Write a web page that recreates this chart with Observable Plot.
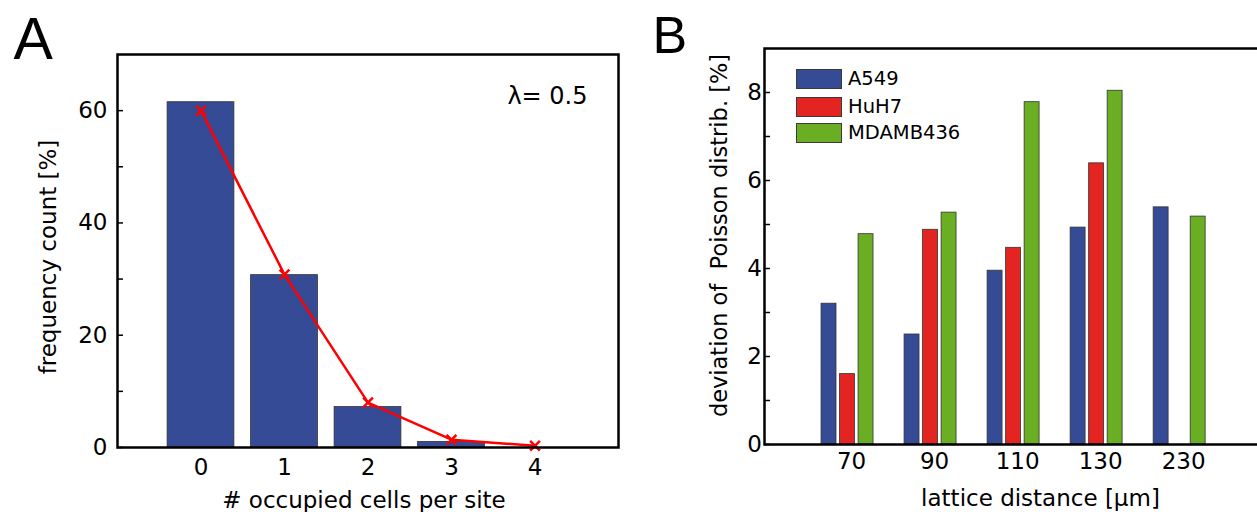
<!DOCTYPE html>
<html>
<head>
<meta charset="utf-8">
<script src="https://cdn.jsdelivr.net/npm/d3@7"></script>
<script src="https://cdn.jsdelivr.net/npm/@observablehq/plot@0.6"></script>
<style>
  html, body { margin: 0; padding: 0; background: #fff; }
  #root { position: relative; width: 1257px; height: 512px; overflow: hidden; font-family: "DejaVu Sans", sans-serif; }
  #root svg { position: absolute; top: 0; }
  .legend { position: absolute; left: 796px; top: 69px; }
  .legend .item { position: absolute; left: 0; height: 20px; white-space: nowrap; }
  .legend .sw { position: absolute; left: 0; top: 0; width: 44px; height: 18px; border: 1px solid #3a3a3a; }
  .legend .lbl { position: absolute; left: 52px; top: -3px; font-size: 19.5px; line-height: 26px; color: #000; }
</style>
</head>
<body>
<div id="root"></div>
<script>
// ---------- Panel A data ----------
const cellsPerSite = [0, 1, 2, 3];
const frequencyPct = [61.5, 30.7, 7.2, 1.0];
const poissonX = [0, 1, 2, 3, 4];
const poissonPct = [60.0, 30.8, 8.0, 1.4, 0.3];
const yTicksA = [0, 20, 40, 60];
const yMinorA = [10, 30, 50];
const lambdaLabel = "λ= 0.5";
const xTitleA = "# occupied cells per site";
const yTitleA = "frequency count [%]";

// ---------- Panel B data ----------
const distances = ["70", "90", "110", "130", "230"];
const seriesNames = ["A549", "HuH7", "MDAMB436"];
const a549 = [3.2, 2.5, 3.95, 4.93, 5.39];
const huh7 = [1.6, 4.88, 4.47, 6.39, null];
const mdamb436 = [4.78, 5.27, 7.78, 8.04, 5.18];
const seriesColors = ["#364b96", "#e32421", "#69ae23"];
const yTicksB = [0, 2, 4, 6, 8];
const yMinorB = [1, 3, 5, 7];
const xTitleB = "lattice distance [µm]";
const yTitleB = "deviation of\u00a0 Poisson distrib. [%]";

const root = document.getElementById("root");
const baseStyle = {fontFamily: "DejaVu Sans", fontSize: "23px", color: "#000", background: "transparent", overflow: "visible"};

// ---------- Panel A ----------
const barsA = cellsPerSite.map((k, i) => ({k, v: frequencyPct[i]}));
const lineA = poissonX.map((k, i) => ({k, v: poissonPct[i]}));

const plotA = Plot.plot({
  width: 625, height: 512,
  marginLeft: 117, marginRight: 7, marginTop: 54, marginBottom: 65,
  style: baseStyle,
  x: {domain: [-1, 5], label: null},
  y: {domain: [0, 70], label: null},
  marks: [
    Plot.rectY(barsA, {x1: d => d.k - 0.4, x2: d => d.k + 0.4, y1: 0, y2: "v", fill: seriesColors[0], stroke: "#333", strokeWidth: 0.8}),
    Plot.line(lineA, {x: "k", y: "v", stroke: "#ff0000", strokeWidth: 2.5}),
    Plot.dot(lineA, {x: "k", y: "v", symbol: "times", r: 4.5, stroke: "#ff0000", strokeWidth: 2.5}),
    Plot.axisY(yTicksA, {tickSize: 0, tickPadding: 10, label: null}),
    Plot.axisY(yTicksA.concat(yMinorA), {tickSize: -6, tickFormat: () => "", strokeWidth: 1.5, label: null}),
    Plot.axisX(poissonX, {tickSize: 0, tickPadding: 11, label: null}),
    Plot.frame({stroke: "#000", strokeWidth: 2.5}),
    Plot.text([lambdaLabel], {text: d => d, frameAnchor: "top-right", textAnchor: "end", lineAnchor: "top", dx: -31, dy: 32, fontSize: 24}),
    Plot.text([yTitleA], {text: d => d, frameAnchor: "left", textAnchor: "middle", rotate: -90, lineAnchor: "middle", dx: -69, dy: 6, fontSize: 23}),
    Plot.text([xTitleA], {text: d => d, frameAnchor: "bottom", textAnchor: "middle", lineAnchor: "bottom", dx: -4, dy: 60, fontSize: 23}),
    Plot.text(["A"], {text: d => d, frameAnchor: "top-left", textAnchor: "start", lineAnchor: "bottom", dx: -104, dy: 4, fontSize: 59, fontFamily: "Liberation Sans"})
  ]
});
plotA.style.left = "0px";
root.appendChild(plotA);

// ---------- Panel B ----------
const seriesValues = [a549, huh7, mdamb436];
const barsB = [];
seriesNames.forEach((name, s) => {
  seriesValues[s].forEach((v, i) => {
    if (v != null) barsB.push({series: name, s, pos: i + 1, v});
  });
});
const halfBar = 0.09, barStep = 0.223;

const plotB = Plot.plot({
  width: 690, height: 512,
  marginLeft: 124, marginRight: 18, marginTop: 48, marginBottom: 68,
  style: baseStyle,
  x: {domain: [0, 6.6], label: null},
  y: {domain: [0, 9], label: null},
  color: {domain: seriesNames, range: seriesColors},
  marks: [
    Plot.rectY(barsB, {
      x1: d => d.pos + (d.s - 1) * barStep - halfBar,
      x2: d => d.pos + (d.s - 1) * barStep + halfBar,
      y1: 0, y2: "v", fill: "series", stroke: "#333", strokeWidth: 0.8
    }),
    Plot.axisY(yTicksB, {tickSize: 0, tickPadding: 2.5, label: null}),
    Plot.axisY(yTicksB.concat(yMinorB), {tickSize: -6, tickFormat: () => "", strokeWidth: 1.5, label: null}),
    Plot.axisX(distances.map((d, i) => i + 1), {tickFormat: p => distances[p - 1], tickSize: 0, tickPadding: 8, dx: 4, label: null}),
    Plot.frame({stroke: "#000", strokeWidth: 2.5}),
    Plot.text([yTitleB], {text: d => d, frameAnchor: "left", textAnchor: "middle", rotate: -90, lineAnchor: "middle", dx: -45, dy: -11, fontSize: 22.5}),
    Plot.text([xTitleB], {text: d => d, frameAnchor: "bottom", textAnchor: "middle", lineAnchor: "bottom", dx: 2, dy: 61, fontSize: 23}),
    Plot.text(["B"], {text: d => d, frameAnchor: "top-left", textAnchor: "start", lineAnchor: "bottom", dx: -112, dy: 4, fontSize: 52, fontFamily: "Liberation Sans"})
  ]
});
plotB.style.left = "640px";
root.appendChild(plotB);

// ---------- Legend (panel B) ----------
const legend = document.createElement("div");
legend.className = "legend";
const rowTops = [0, 27.5, 54];
seriesNames.forEach((name, i) => {
  const item = document.createElement("div");
  item.className = "item";
  item.style.top = rowTops[i] + "px";
  const sw = document.createElement("span");
  sw.className = "sw";
  sw.style.background = seriesColors[i];
  const lbl = document.createElement("span");
  lbl.className = "lbl";
  lbl.textContent = name;
  item.appendChild(sw);
  item.appendChild(lbl);
  legend.appendChild(item);
});
root.appendChild(legend);
</script>
</body>
</html>
